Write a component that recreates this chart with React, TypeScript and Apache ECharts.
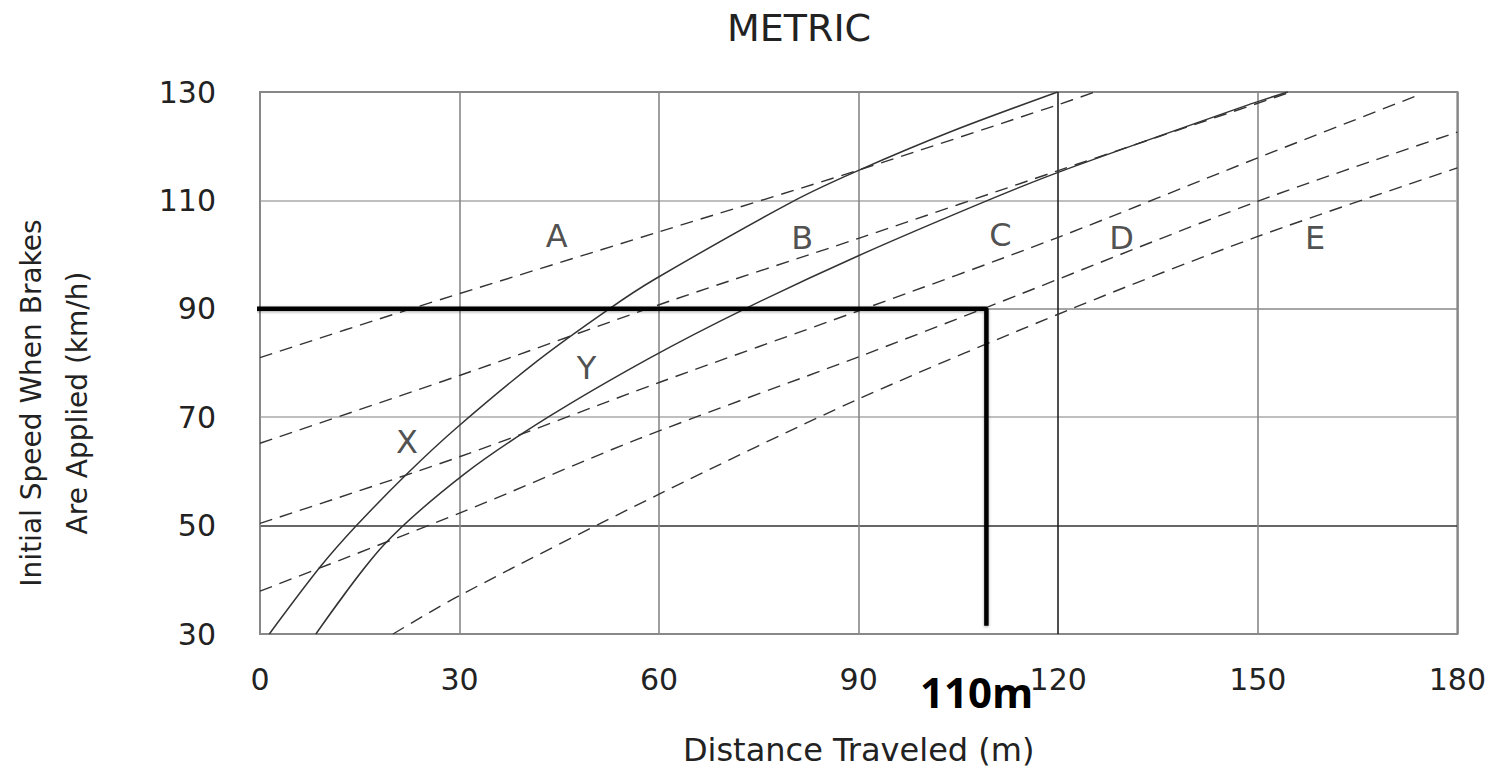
import React, { useEffect, useRef } from "react";
import * as echarts from "echarts";

// Tick values
const xTicks = [0, 30, 60, 90, 120, 150, 180];
const yTicks = [30, 50, 70, 90, 110, 130];

// Solid curves (distance m, speed km/h)
const curveX = [[1.4, 30], [9.0, 42.3], [14.5, 50], [22.3, 59.8], [29.7, 68.2], [41.7, 80.4], [52.5, 90], [59.4, 95.5], [80.4, 110], [89.9, 115.5], [104.1, 122.8], [119.9, 130]];
const curveY = [[8.4, 30], [18.6, 46.4], [30.7, 59.5], [43.3, 70], [58.7, 81], [72.9, 90], [89.8, 99.7], [109.4, 110], [120.7, 115.5], [149.2, 127.9], [154.5, 130]];

// Dashed lines
const lineA = [[0, 81], [22.7, 90], [60, 104.2], [90, 115.6], [119.6, 127.5], [125.5, 130]];
const lineB = [[0, 65.2], [30, 77.7], [62, 91.6], [90, 103], [120, 115.5], [155, 130]];
const lineC = [[0, 50.4], [30, 62.7], [60, 76.4], [89.7, 89.5], [119.6, 103], [149.9, 117.8], [174.3, 129.5]];
const lineD = [[0, 37.9], [30, 52.3], [56.9, 66], [89.7, 81], [108.7, 90], [149.9, 109.8], [180, 122.6]];
const lineE = [[20, 30], [30, 37.1], [60, 55.8], [89.7, 73.2], [122, 90], [149.9, 103.3], [180, 116]];

// Highlighted reading: 90 km/h -> 110 m
const readingPath = [[-1, 90], [109.2, 90], [109.2, 31.5]];

// Region / curve labels
const regionLabels = [
  { name: "A", value: [44.6, 103.4] },
  { name: "B", value: [81.5, 103] },
  { name: "C", value: [111.3, 103.6] },
  { name: "D", value: [129.5, 103] },
  { name: "E", value: [158.6, 103] },
  { name: "X", value: [22.1, 65.5] },
  { name: "Y", value: [49.1, 79.1] },
];

const FONT = "DejaVu Sans";

export default function App() {
  const ref = useRef<HTMLDivElement>(null);
  useEffect(() => {
    if (!ref.current) return;
    const chart = echarts.init(ref.current, null, { renderer: "svg" });
    const solid = { color: "#333", width: 1.5, type: "solid" as const };
    const dashed = { color: "#333", width: 1.4, type: [13, 8] as any };
    const mk = (data: number[][], ls: any) => ({
      type: "line",
      data,
      showSymbol: false,
      symbol: "none",
      smooth: 0.3,
      lineStyle: ls,
      z: 3,
      silent: true,
    });
    chart.setOption({
      animation: false,
      backgroundColor: "#fff",
      title: {
        text: "METRIC",
        left: 722,
        top: 4,
        textStyle: { fontFamily: FONT, fontSize: 38, fontWeight: "normal", color: "#222" },
      },
      grid: {
        left: 259,
        right: 29,
        top: 92,
        bottom: 123,
        show: true,
        borderColor: "#888",
        borderWidth: 2,
      },
      xAxis: {
        type: "value",
        min: 0,
        max: 180,
        interval: 30,
        name: "Distance Traveled (m)",
        nameLocation: "middle",
        nameGap: 100,
        nameTextStyle: { fontFamily: FONT, fontSize: 32, color: "#222" },
        axisLine: { show: false },
        axisTick: { show: false },
        axisLabel: {
          fontFamily: FONT,
          fontSize: 30,
          color: "#222",
          margin: 30,
          formatter: (v: number) => (xTicks.includes(v) ? String(v) : ""),
        },
        splitLine: {
          show: true,
          lineStyle: { color: ["#888", "#888", "#888", "#888", "#222", "#888", "#888"], width: 1.6 },
        },
      },
      yAxis: {
        type: "value",
        min: 30,
        max: 130,
        interval: 20,
        name: "Initial Speed When Brakes\nAre Applied (km/h)",
        nameLocation: "middle",
        nameRotate: 90,
        nameGap: 160,
        nameTextStyle: { fontFamily: FONT, fontSize: 28, color: "#222", lineHeight: 46, padding: [0, 80, 0, 0] },
        axisLine: { show: false },
        axisTick: { show: false },
        axisLabel: {
          fontFamily: FONT,
          fontSize: 30,
          color: "#222",
          margin: 44,
          padding: [0, 0, 14, 0],
          formatter: (v: number) => (yTicks.includes(v) ? String(v) : ""),
        },
        splitLine: {
          show: true,
          lineStyle: { color: ["#888", "#333", "#aaa", "#888", "#aaa", "#888"], width: 1.6 },
        },
      },
      series: [
        mk(curveX, solid),
        mk(curveY, solid),
        mk(lineA, dashed),
        mk(lineB, dashed),
        mk(lineC, dashed),
        mk(lineD, dashed),
        mk(lineE, dashed),
        {
          type: "line",
          data: readingPath,
          showSymbol: false,
          symbol: "none",
          clip: false,
          lineStyle: { color: "#000", width: 4.5, shadowBlur: 3, shadowColor: "rgba(0,0,0,0.35)", shadowOffsetY: 1 },
          z: 5,
          silent: true,
        },
        {
          type: "scatter",
          data: regionLabels,
          symbolSize: 0,
          z: 6,
          silent: true,
          label: {
            show: true,
            position: "inside",
            formatter: "{b}",
            fontFamily: FONT,
            fontSize: 32,
            color: "#222",
          },
        },
      ],
      graphic: [
        {
          type: "text",
          left: 920,
          top: 670,
          z: 10,
          style: {
            text: "110m",
            fontFamily: "Open Sans",
            fontWeight: "bold",
            fontSize: 42,
            fill: "#000",
          },
        },
      ],
    });
    return () => chart.dispose();
  }, []);
  return (
    <div
      ref={ref}
      style={{ position: "fixed", left: 0, top: 0, width: 1489, height: 771, background: "#fff" }}
    />
  );
}
